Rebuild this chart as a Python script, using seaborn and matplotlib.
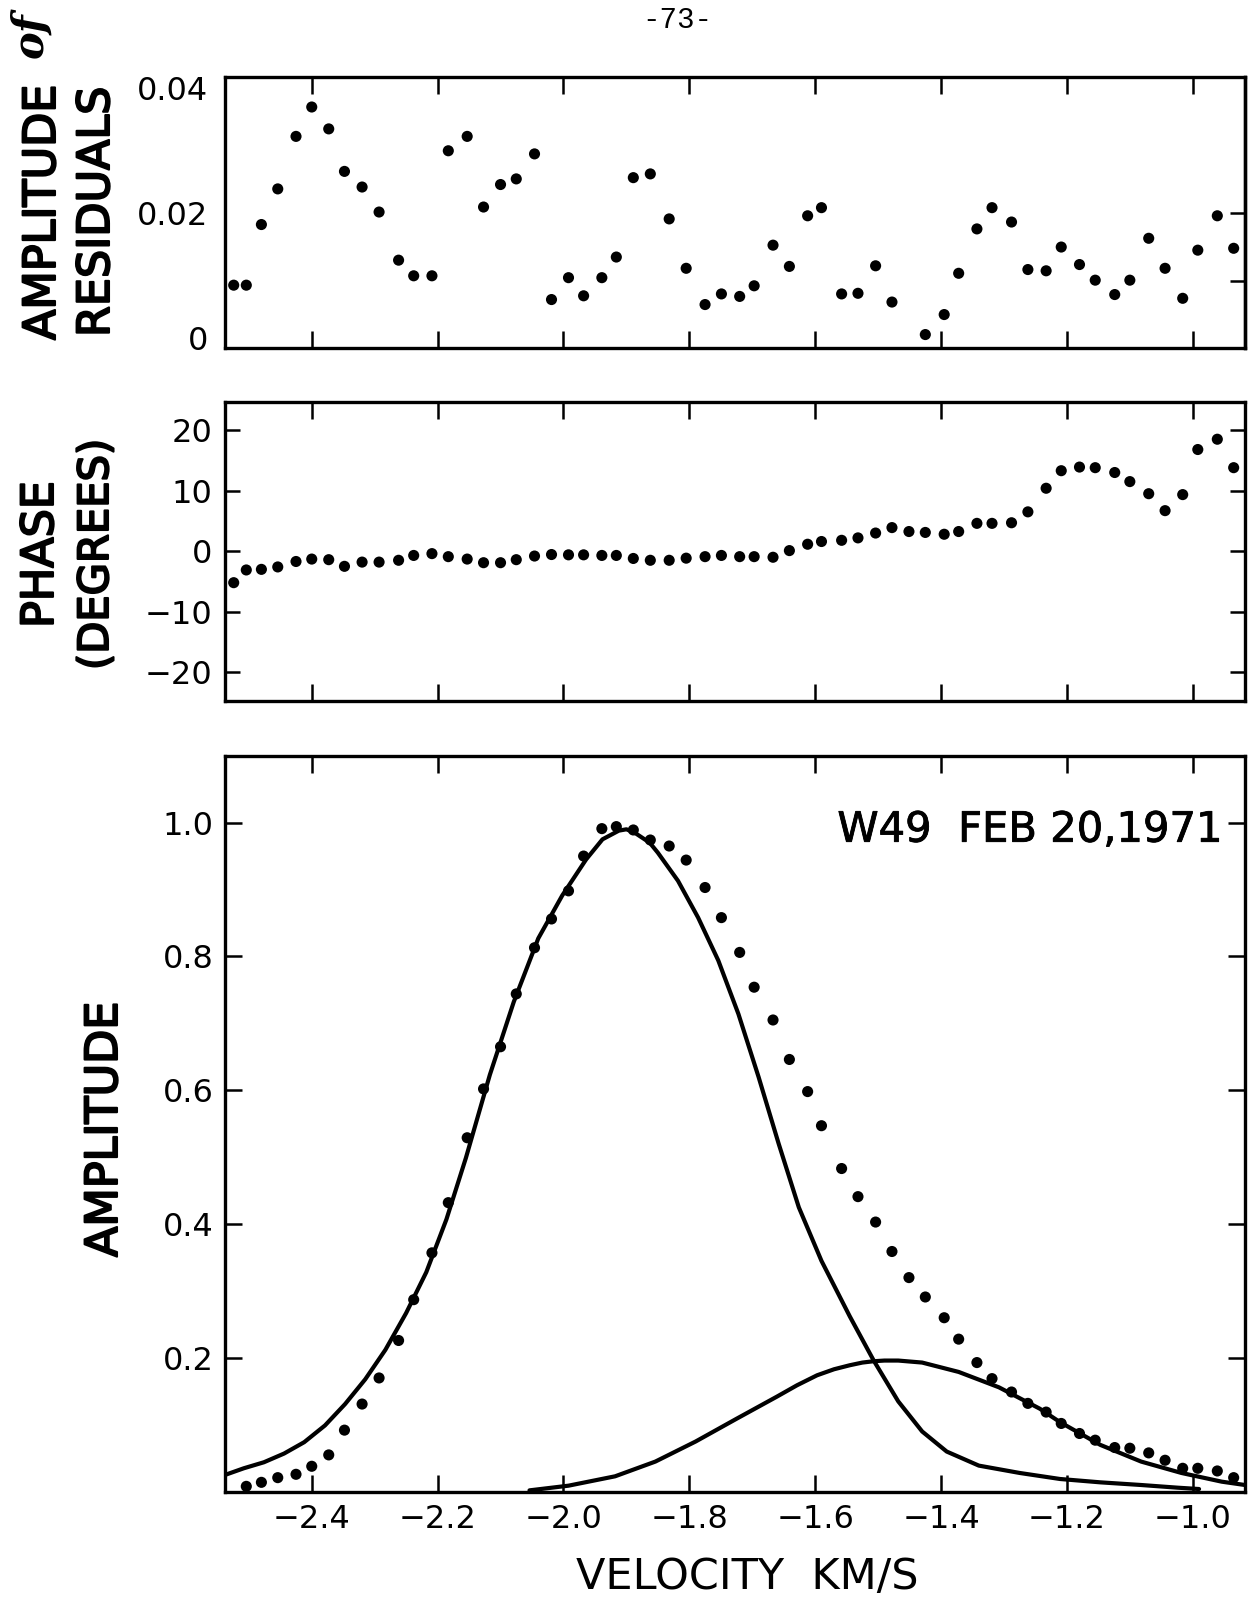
import numpy as np
import pandas as pd
import matplotlib
matplotlib.use("Agg")
import matplotlib.pyplot as plt
import matplotlib.patheffects as pe
import seaborn as sns

# ---------------------------------------------------------------- data
# channel velocities (km/s)
velocity = [
    -2.524, -2.504, -2.480, -2.454, -2.425, -2.400, -2.373, -2.348, -2.320, -2.293,
    -2.262, -2.238, -2.209, -2.183, -2.153, -2.127, -2.100, -2.075, -2.046, -2.019,
    -1.992, -1.968, -1.939, -1.916, -1.889, -1.862, -1.832, -1.805, -1.775, -1.749,
    -1.720, -1.697, -1.667, -1.641, -1.612, -1.590, -1.558, -1.532, -1.504, -1.478,
    -1.451, -1.425, -1.395, -1.372, -1.343, -1.319, -1.288, -1.262, -1.233, -1.209,
    -1.180, -1.155, -1.124, -1.100, -1.070, -1.044, -1.016, -0.992, -0.961, -0.935,
]

# amplitude residuals per channel (one channel not plotted)
residual = [
    0.0084, 0.0084, 0.0181, 0.0238, 0.0322, 0.0369, 0.0334, 0.0266, 0.0241, 0.0201,
    0.0124, 0.0099, 0.0099, 0.0299, 0.0322, 0.0209, 0.0245, 0.0254, 0.0294, 0.0061,
    0.0096, 0.0067, 0.0096, 0.0129, 0.0256, 0.0262, 0.0190, 0.0111, 0.0053, 0.0070,
    0.0066, 0.0083, 0.0148, 0.0114, 0.0195, 0.0208, 0.0070, 0.0071, 0.0115, 0.0057,
    np.nan, 0.0005, 0.0037, 0.0103, 0.0174, 0.0208, 0.0185, 0.0109, 0.0107, 0.0145,
    0.0117, 0.0092, 0.0069, 0.0092, 0.0159, 0.0111, 0.0063, 0.0140, 0.0195, 0.0143,
]

# phase per channel (degrees)
phase = [
    -5.2, -3.1, -3.0, -2.6, -1.7, -1.3, -1.4, -2.5, -1.8, -1.8,
    -1.5, -0.7, -0.4, -0.9, -1.3, -1.9, -1.9, -1.4, -0.8, -0.55,
    -0.6, -0.6, -0.7, -0.7, -1.2, -1.5, -1.5, -1.15, -0.9, -0.7,
    -0.9, -0.9, -1.0, 0.1, 1.15, 1.6, 1.8, 2.2, 3.0, 3.9,
    3.25, 3.1, 2.8, 3.25, 4.6, 4.6, 4.7, 6.5, 10.4, 13.3,
    13.9, 13.8, 13.0, 11.5, 9.5, 6.7, 9.35, 16.8, 18.5, 13.8,
]

# normalised amplitude, channels 2..60
amplitude = [
    0.008, 0.014, 0.021, 0.026, 0.038, 0.055, 0.092, 0.131, 0.170,
    0.226, 0.287, 0.357, 0.432, 0.529, 0.602, 0.665, 0.744, 0.813, 0.856,
    0.898, 0.950, 0.991, 0.994, 0.989, 0.974, 0.965, 0.944, 0.903, 0.858,
    0.806, 0.754, 0.705, 0.646, 0.598, 0.547, 0.483, 0.441, 0.403, 0.359,
    0.320, 0.291, 0.260, 0.228, 0.193, 0.169, 0.149, 0.132, 0.119, 0.102,
    0.087, 0.077, 0.066, 0.065, 0.058, 0.047, 0.035, 0.035, 0.031, 0.021,
]

# fitted components
comp1_v = [-2.538, -2.508, -2.476, -2.444, -2.412, -2.379, -2.347, -2.315, -2.283,
           -2.250, -2.218, -2.186, -2.155, -2.117, -2.079, -2.040, -2.002, -1.964,
           -1.938, -1.912, -1.900, -1.887, -1.863, -1.850, -1.818, -1.786, -1.754,
           -1.722, -1.690, -1.658, -1.626, -1.590, -1.545, -1.507, -1.468, -1.430,
           -1.391, -1.340, -1.275, -1.211, -1.147, -1.082, -1.024, -0.990]
comp1_a = [0.025, 0.035, 0.044, 0.057, 0.074, 0.099, 0.131, 0.168, 0.212,
           0.267, 0.328, 0.407, 0.499, 0.623, 0.732, 0.827, 0.891, 0.945,
           0.975, 0.988, 0.990, 0.985, 0.970, 0.955, 0.913, 0.858, 0.794,
           0.714, 0.620, 0.520, 0.425, 0.345, 0.262, 0.196, 0.135, 0.090,
           0.060, 0.039, 0.028, 0.019, 0.014, 0.010, 0.006, 0.004]

comp2_v = [-2.054, -1.992, -1.918, -1.854, -1.790, -1.725, -1.661, -1.629, -1.597,
           -1.570, -1.545, -1.525, -1.507, -1.490, -1.468, -1.430, -1.372, -1.308,
           -1.243, -1.211, -1.147, -1.082, -1.018, -0.954, -0.917]
comp2_a = [0.002, 0.009, 0.023, 0.045, 0.075, 0.109, 0.142, 0.159, 0.174,
           0.183, 0.189, 0.193, 0.195, 0.196, 0.196, 0.193, 0.179, 0.156,
           0.124, 0.104, 0.070, 0.045, 0.028, 0.015, 0.010]

x_ticks = [-2.4, -2.2, -2.0, -1.8, -1.6, -1.4, -1.2, -1.0]
x_ticklabels = ["\u22122.4", "\u22122.2", "\u22122.0", "\u22121.8",
                "\u22121.6", "\u22121.4", "\u22121.2", "\u22121.0"]
res_ticks = [0, 0.02, 0.04]
res_ticklabels = ["0", "0.02", "0.04"]
phase_ticks = [-20, -10, 0, 10, 20]
phase_ticklabels = ["\u221220", "\u221210", "0", "10", "20"]
amp_ticks = [0.2, 0.4, 0.6, 0.8, 1.0]
amp_ticklabels = ["0.2", "0.4", "0.6", "0.8", "1.0"]

# ---------------------------------------------------------------- style
sns.set_theme(style="ticks")
plt.rcParams["font.family"] = ["DejaVu Sans"]
plt.rcParams.update({
    "axes.edgecolor": "black",
    "text.color": "black",
    "axes.labelcolor": "black",
    "xtick.color": "black",
    "ytick.color": "black",
    "xtick.labelcolor": "black",
    "ytick.labelcolor": "black",
})

W, H = 1249, 1602
fig = plt.figure(figsize=(W / 100, H / 100), dpi=100)
fig.patch.set_facecolor("white")

left = 224.9 / W
width = (1245.0 - 224.9) / W
ax_res = fig.add_axes([left, 1 - 348.0 / H, width, (348.0 - 77.0) / H])
ax_ph = fig.add_axes([left, 1 - 700.7 / H, width, (700.7 - 401.7) / H])
ax_amp = fig.add_axes([left, 1 - 1491.7 / H, width, (1491.7 - 755.7) / H])

df = pd.DataFrame({"velocity": velocity, "residual": residual, "phase": phase})
df_amp = pd.DataFrame({"velocity": velocity[1:], "amplitude": amplitude})
df_c1 = pd.DataFrame({"velocity": comp1_v, "amplitude": comp1_a})
df_c2 = pd.DataFrame({"velocity": comp2_v, "amplitude": comp2_a})

dot = dict(color="black", s=64, edgecolor="none", linewidth=0, zorder=3)

sns.scatterplot(data=df.dropna(), x="velocity", y="residual", ax=ax_res, **dot)
sns.scatterplot(data=df, x="velocity", y="phase", ax=ax_ph, **dot)
line_kw = dict(sort=False, estimator=None, color="black", lw=3.0, zorder=2)
sns.lineplot(data=df_c1, x="velocity", y="amplitude", ax=ax_amp, **line_kw)
sns.lineplot(data=df_c2, x="velocity", y="amplitude", ax=ax_amp, **line_kw)
sns.scatterplot(data=df_amp, x="velocity", y="amplitude", ax=ax_amp, **dot)
for ln in ax_amp.lines:
    ln.set_solid_joinstyle("round")
    ln.set_solid_capstyle("round")

tick_font = 23
for ax in (ax_res, ax_ph, ax_amp):
    ax.set_facecolor("white")
    ax.set_xlim(-2.538, -0.917)
    ax.set_xticks(x_ticks)
    ax.set_xlabel("")
    ax.set_ylabel("")
    for sp in ax.spines.values():
        sp.set_visible(True)
        sp.set_linewidth(2.4)
        sp.set_color("black")
    ax.tick_params(axis="x", which="major", direction="in", top=True, bottom=True,
                   length=12, width=1.8, color="black", labelbottom=False)

# residual panel
ax_res.set_ylim(-0.00165, 0.0417)
ax_res.set_yticks(res_ticks)
ax_res.set_yticklabels(res_ticklabels)
ax_res.tick_params(axis="y", which="major", length=0, pad=12,
                   labelsize=tick_font, right=False)
ax_res.set_yticks([0.02], minor=True)
ax_res.tick_params(axis="y", which="minor", direction="in", left=True, right=False,
                   length=11, width=1.8, color="black")
sec = ax_res.secondary_yaxis("right")
sec.set_yticks([0.009, 0.02])
sec.tick_params(direction="in", length=11, width=1.8, color="black", labelright=False)
sec.spines["right"].set_linewidth(2.4)

# phase panel
ax_ph.set_ylim(-24.7, 24.7)
ax_ph.set_yticks(phase_ticks)
ax_ph.set_yticklabels(phase_ticklabels)
ax_ph.tick_params(axis="y", which="major", direction="in", left=True, right=True,
                  length=11, width=1.8, color="black", pad=9, labelsize=tick_font)

# amplitude panel
ax_amp.set_ylim(0, 1.1)
ax_amp.set_yticks(amp_ticks)
ax_amp.set_yticklabels(amp_ticklabels)
ax_amp.tick_params(axis="y", which="major", direction="in", left=True, right=True,
                   length=12, width=1.8, color="black", pad=8, labelsize=tick_font)
ax_amp.set_xticklabels(x_ticklabels)
ax_amp.tick_params(axis="x", which="major", labelbottom=True, pad=9,
                   labelsize=tick_font)

ax_amp.set_xlabel("VELOCITY  KM/S", fontsize=31, va="baseline")
ax_amp.xaxis.set_label_coords((747.5 - 224.9) / 1020.1, (1491.7 - 1589.0) / 736.0)

ax_amp.text((1222.0 - 224.9) / 1020.1, (1491.7 - 841.7) / 736.0, "W49  FEB 20,1971",
            transform=ax_amp.transAxes, ha="right", va="baseline", fontsize=30,
            path_effects=[pe.withStroke(linewidth=0.6, foreground="black")])

# rotated axis titles
heavy = [pe.withStroke(linewidth=1.5, foreground="black")]
def vlabel(xb, ystart, text, size=32):
    fig.text(xb / W, 1 - ystart / H, text, rotation=90, rotation_mode="anchor",
             ha="left", va="baseline", fontsize=size, path_effects=heavy)

vlabel(55, 340, "AMPLITUDE")
vlabel(109, 337, "RESIDUALS")
vlabel(53, 628, "PHASE")
vlabel(108, 670, "(DEGREES)", size=30)
vlabel(117, 1257, "AMPLITUDE")

fig.text(30 / W, 1 - 35 / H, "of", rotation=90, rotation_mode="anchor",
         ha="center", va="center", fontsize=30, family="DejaVu Serif",
         style="italic", weight="bold")
fig.text(677 / W, 1 - 28 / H, "-73-", ha="center", va="baseline", fontsize=21,
         family="Liberation Mono")

fig.savefig("out.png", dpi=100, facecolor="white")
